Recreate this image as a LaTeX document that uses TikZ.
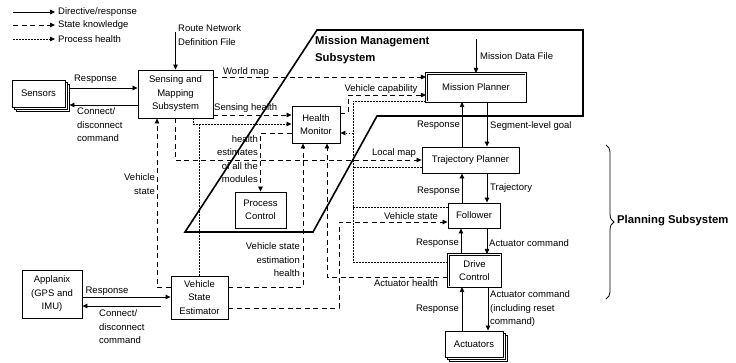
\documentclass[tikz,border=0pt]{standalone}
\usepackage{fontspec}
\setmainfont{Liberation Sans}
\usetikzlibrary{arrows.meta,shadows,decorations.pathreplacing}
\newcommand\lblfont{\fontsize{9.5}{13.5}\selectfont}
\begin{document}
\begin{tikzpicture}[x=1pt,y=-1pt,
  >={Triangle[length=5pt,width=4.5pt]},
  every node/.style={font=\lblfont},
  box/.style={draw,fill=white,line width=0.9pt,align=center,inner sep=0pt},
  dbox/.style={box,double,double distance=1.3pt,line width=0.6pt},
  stack/.style={box,double copy shadow={shadow xshift=2pt,shadow yshift=-2pt}},
  sol/.style={line width=0.8pt},
  dsh/.style={line width=0.8pt,dash pattern=on 5pt off 3.5pt},
  dot/.style={line width=0.8pt,dash pattern=on 1.5pt off 1.5pt},
  lbl/.style={inner sep=0pt},
  subsys/.style={line width=1.6pt,line join=miter},
  title/.style={font=\bfseries\fontsize{11.3}{17}\selectfont,align=left,inner sep=0pt}
]
\useasboundingbox (0,0) rectangle (736,362);

% legend
\coordinate (l1a) at (13,12); \coordinate (l1b) at (55,12);
\coordinate (l2a) at (13,25); \coordinate (l2b) at (55,25);
\coordinate (l3a) at (13,39); \coordinate (l3b) at (55,39);
\draw[sol,->] (l1a) -- (l1b);
\draw[dsh,->] (l2a) -- (l2b);
\draw[dot,->] (l3a) -- (l3b);
\node[lbl,anchor=west] (lg1) at (58,12) {Directive/response};
\node[lbl,anchor=west] (lg2) at (58,25) {State knowledge};
\node[lbl,anchor=west] (lg3) at (58,39) {Process health};

% mission management subsystem outline
\draw[subsys] (317,30) -- (583,30) -- (583,116) -- (377,116) -- (313,232) -- (185,232) -- cycle;
\node[title,anchor=west] (mmt) at (315,50.5) {Mission Management\\Subsystem};

% boxes
\node[stack,minimum width=53pt,minimum height=27pt] (sensors) at (38.5,93.5) {Sensors};
\node[box,minimum width=75pt,minimum height=48pt] (smap) at (175.5,94) {Sensing and\\Mapping\\Subsystem};
\node[dbox,minimum width=99.5pt,minimum height=28.5pt] (mp) at (476,87.5) {Mission Planner};
\node[box,minimum width=48pt,minimum height=37pt] (hm) at (316,124.5) {Health\\Monitor};
\node[box,minimum width=51pt,minimum height=36pt] (pc) at (260.5,210) {Process\\Control};
\node[box,minimum width=97pt,minimum height=26pt] (tp) at (470.5,160) {Trajectory Planner};
\node[box,minimum width=52pt,minimum height=25pt] (fol) at (474,215.5) {Follower};
\node[dbox,minimum width=52.5pt,minimum height=32.5pt] (dc) at (474.5,270.5) {Drive\\Control};
\node[stack,minimum width=58pt,minimum height=26pt] (act) at (474,344) {Actuators};
\node[box,minimum width=57pt,minimum height=43pt] (vse) at (199.5,297.5) {Vehicle\\State\\Estimator};
\node[box,minimum width=60pt,minimum height=48pt] (apx) at (52,294) {Applanix\\(GPS and\\IMU)};
\coordinate (sr) at ([xshift=4pt]sensors.east);

% route network definition file
\coordinate (rnd) at (175.5,32);
\draw[sol,->] (rnd) -- (smap.north);
\node[lbl,anchor=west,align=left] (rndl) at (178,35) {Route Network\\Definition File};

% mission data file
\coordinate (mdf) at (476,39);
\draw[sol,->] (mdf) -- (mp.north);
\node[lbl,anchor=west] (mdfl) at (480,56) {Mission Data File};

% sensors
\draw[sol,->] (sr |- 0,88) -- (smap.west |- 0,88);
\node[lbl] (resp1) at (95.5,79) {Response};
\draw[sol,->] (smap.west |- 0,105) -- (sr |- 0,105);
\node[lbl,anchor=west,align=left] (cd1) at (77,125) {Connect/\\disconnect\\command};

% world map
\draw[dsh,->] (smap.east |- 0,77) -- (mp.west |- 0,77);
\node[lbl,anchor=west] (wm) at (223,72) {World map};

% sensing health
\draw[dsh,->] (smap.east |- 0,115) -- (hm.west |- 0,115);
\node[lbl,anchor=west] (sh) at (214,108) {Sensing health};

% process health of sensing and of VSE
\draw[dot,->] (smap.south -| 193,0) |- (hm.west |- 0,124);
\draw[dot] (vse.north) -- (vse.north |- 0,124);

% health estimates
\draw[dsh,->] (hm.west |- 0,133) -| (pc.north);
\node[lbl,anchor=east,align=right] (he) at (258,159) {health\\estimates\\of all the\\modules};

% local map
\draw[dsh,->] (smap.south -| 175,0) |- (tp.west);
\node[lbl] (lm) at (394,153) {Local map};

% vehicle state to sensing
\draw[dsh,->] (vse.west |- 0,287) -| (smap.south -| 157,0);
\node[lbl,anchor=east,align=right] (vs1) at (155,184) {Vehicle\\state};

% vehicle capability
\draw[dsh,->] (hm.east |- 0,113) -- (348,113) |- (mp.west |- 0,95);
\node[lbl] (vc) at (381,89) {Vehicle capability};

% process health bus
\draw[dot] (mp.west |- 0,101) -| (353,262) -- (dc.west |- 0,262);
\draw[dot] (tp.west |- 0,167) -- (353,167);
\draw[dot] (fol.west |- 0,207) -- (353,207);
\draw[dot,->] (353,133) -- (hm.east |- 0,133);

% MP <-> TP
\draw[sol,->] (tp.north -| 462,0) -- (mp.south -| 462,0);
\node[lbl,anchor=east] (r2) at (460,125) {Response};
\draw[sol,->] (mp.south -| 487,0) -- (tp.north -| 487,0);
\node[lbl,anchor=west] (slg) at (490,126) {Segment-level goal};

% TP <-> Follower
\draw[sol,->] (fol.north -| 462,0) -- (tp.south -| 462,0);
\node[lbl,anchor=east] (r3) at (460,191) {Response};
\draw[sol,->] (tp.south -| 487,0) -- (fol.north -| 487,0);
\node[lbl,anchor=west] (trj) at (490,188) {Trajectory};

% vehicle state to follower
\draw[dsh,->] (vse.east |- 0,308) -| (339,222) -- (fol.west |- 0,222);
\node[lbl] (vs2) at (411,216) {Vehicle state};

% VSE estimation health
\draw[dsh,->] (vse.east |- 0,287) -| (hm.south -| 303,0);
\node[lbl,anchor=east,align=right] (veh) at (300,260) {Vehicle state\\estimation\\health};

% actuator health
\draw[dsh,->] (dc.west |- 0,277) -| (hm.south -| 327,0);
\node[lbl] (ah) at (406,283) {Actuator health};

% Follower <-> Drive Control
\draw[sol,->] (dc.north -| 461,0) -- (fol.south -| 461,0);
\node[lbl,anchor=east] (r4) at (459,243) {Response};
\draw[sol,->] (fol.south -| 487,0) -- (dc.north -| 487,0);
\node[lbl,anchor=west] (ac1) at (489,243) {Actuator command};

% Drive Control <-> Actuators
\draw[sol,->] (act.north -| 462,0) -- (dc.south -| 462,0);
\node[lbl,anchor=east] (r5) at (459,309) {Response};
\draw[sol,->] (dc.south -| 488,0) -- (act.north -| 488,0);
\node[lbl,anchor=west,align=left] (ac2) at (490,309) {Actuator command\\(including reset\\command)};

% Applanix
\draw[sol,->] (apx.east |- 0,297) -- (vse.west |- 0,297);
\node[lbl] (r6) at (107,291) {Response};
\draw[sol,->,shorten <=10pt] (vse.west |- 0,306) -- (apx.east |- 0,306);
\node[lbl,anchor=west,align=left] (cd2) at (99,327) {Connect/\\disconnect\\command};

% planning subsystem brace
\draw[line width=0.8pt,decorate,decoration={brace,amplitude=8pt}] (606,145) -- (606,299);
\node[title,anchor=west] (ps) at (617,221) {Planning Subsystem};
\end{tikzpicture}
\end{document}
